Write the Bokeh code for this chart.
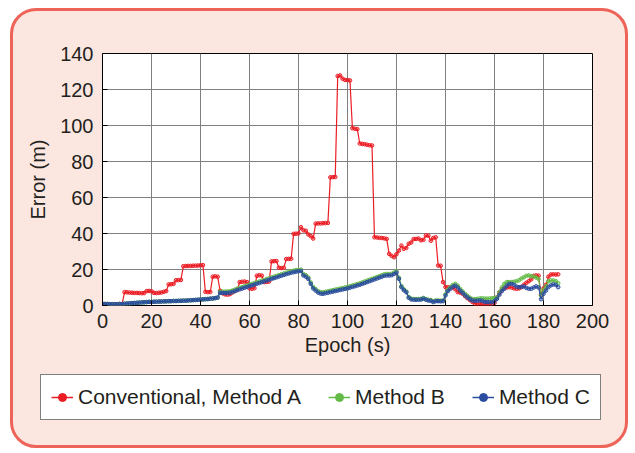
from bokeh.plotting import figure
from bokeh.models import ColumnDataSource, Legend, LegendItem
from bokeh.layouts import column
from bokeh.embed import file_html
from bokeh.resources import INLINE

# ---------------- data ----------------
epochs = list(range(0, 187))

method_a = [0.9, 0.8, 0.8, 0.7, 0.7, 0.7, 0.7, 0.8, 0.8,
            7.4, 7.3, 7.2, 7.1, 7.0, 7.0, 6.9, 6.8, 6.9,
            8.0, 8.1, 7.9,
            7.0, 6.9, 7.1, 7.2, 7.6, 8.0,
            11.7, 11.8, 12.0,
            14.0, 14.1, 14.2,
            21.8, 21.9, 22.0, 22.0, 22.1, 22.1, 22.2, 22.3, 22.4,
            7.6, 7.4, 7.5,
            16.0, 16.2, 16.0,
            8.2, 6.8, 6.2, 6.0, 6.3, 7.2, 8.0, 8.8,
            13.0, 13.2, 13.3, 13.0,
            9.5, 9.3, 9.6,
            16.5, 16.8, 16.6,
            13.0, 13.1, 13.3,
            24.5, 24.6, 24.7,
            21.0, 20.8, 21.0,
            25.8, 25.9, 26.0,
            39.8, 39.9, 40.0,
            43.5, 41.8, 41.5, 39.5, 38.5, 37.2,
            45.5, 45.6, 45.6, 45.7, 45.8, 45.9,
            71.2, 71.3, 71.4,
            127.5, 127.8, 126.0, 125.3, 125.2, 125.0,
            98.5, 98.2, 98.0,
            90.0, 89.8, 89.6, 89.3, 89.0, 88.9,
            37.9, 37.8, 37.6, 37.5, 37.3, 37.0,
            28.7, 27.6, 26.8, 28.5, 30.5, 33.3, 31.5, 32.0, 34.3, 35.0,
            36.9, 37.0, 37.2, 36.2, 36.5, 38.9, 38.8, 36.0, 37.5, 37.9,
            22.2, 22.1, 13.0, 10.2, 10.1, 10.0, 10.0, 9.0, 7.4, 7.2, 6.5, 5.2,
            4.0, 3.0, 2.0, 1.0, 0.9, 0.8, 0.8, 0.8, 0.9, 0.9, 1.0, 1.5,
            4.6, 7.0, 9.0, 9.5, 10.0, 10.2, 10.0, 9.5, 9.3, 9.5, 10.2, 11.5, 12.6,
            13.5, 14.5, 16.5, 16.7, 16.6, 6.0, 9.5, 11.5, 16.0, 17.2, 17.3, 17.2, 17.3]

method_c = [0.9, 0.8, 0.8, 0.7, 0.7, 0.7, 0.7, 0.8, 0.8,
            1.0, 1.1, 1.2, 1.3, 1.4, 1.5, 1.6, 1.7, 1.8, 1.9, 2.0, 2.0, 2.1,
            2.1, 2.2, 2.2, 2.3, 2.3, 2.4, 2.4, 2.5, 2.5, 2.6, 2.6, 2.7, 2.7,
            2.8, 2.9, 3.0, 3.1, 3.2, 3.3, 3.4, 3.5, 3.6, 3.8, 3.9, 4.1, 4.4,
            7.0, 7.0, 6.9, 7.0, 7.1, 7.5, 8.0, 8.5, 9.0, 9.4, 9.9, 10.3, 10.8,
            11.2, 11.6, 12.1, 12.5, 13.0, 13.4, 13.9, 14.3, 14.8, 15.2, 15.6,
            16.1, 16.5, 17.0, 17.4, 17.8, 18.2, 18.5, 18.8, 19.0, 19.2,
            16.7, 16.0, 14.8, 12.0, 9.5, 8.3, 7.2, 6.6, 6.5,
            6.8, 7.1, 7.4, 7.7, 8.0, 8.3, 8.6, 8.9, 9.2, 9.5, 9.9, 10.3, 10.7,
            11.1, 11.5, 12.0, 12.5, 13.0, 13.5, 14.0, 14.5, 15.0, 15.5, 16.0,
            16.5, 16.7, 16.7, 16.8, 17.5, 18.3,
            14.8, 10.2, 8.5, 7.4, 4.3, 3.4, 3.2, 3.2, 3.2, 3.3, 3.8, 3.2, 2.8,
            2.6, 1.9, 2.4, 2.4, 2.3, 2.4,
            5.6, 8.0, 9.3, 10.5, 11.0, 10.0, 8.3, 7.0, 5.6, 4.5, 3.5, 2.8, 2.6,
            2.7, 2.8, 2.6, 2.0, 1.9, 1.9, 1.8, 2.5,
            3.7, 6.0, 8.0, 9.3, 11.0, 12.0, 12.0, 11.5, 10.5, 10.2, 10.4, 10.6,
            9.8, 9.3, 9.3, 10.0, 10.6, 10.0, 3.5, 6.5, 8.3, 10.2, 11.2, 11.7,
            11.5, 10.2]

method_b = [0.9, 0.8, 0.8, 0.7, 0.7, 0.7, 0.7, 0.8, 0.8,
            1.0, 1.1, 1.2, 1.3, 1.4, 1.5, 1.6, 1.7, 1.8, 1.9, 2.0, 2.0, 2.1,
            2.1, 2.2, 2.2, 2.3, 2.3, 2.4, 2.4, 2.5, 2.5, 2.6, 2.6, 2.7, 2.7,
            2.8, 2.9, 3.0, 3.1, 3.2, 3.3, 3.4, 3.5, 3.6, 3.8, 3.9, 4.1, 4.4,
            7.6, 7.7, 7.7, 7.8, 7.9, 8.3, 8.8, 9.3, 9.8, 10.2, 10.7, 11.1, 11.6,
            12.0, 12.4, 12.9, 13.3, 13.8, 14.2, 14.7, 15.1, 15.6, 16.0, 16.4,
            16.9, 17.3, 17.8, 18.2, 18.6, 19.0, 19.3, 19.6, 19.8, 19.9,
            17.5, 16.8, 15.6, 12.8, 10.3, 9.1, 8.0, 7.4, 7.3,
            7.6, 7.9, 8.2, 8.5, 8.8, 9.1, 9.4, 9.7, 10.0, 10.3, 10.7, 11.1, 11.5,
            11.9, 12.3, 12.8, 13.3, 13.8, 14.3, 14.8, 15.3, 15.8, 16.3, 16.8,
            17.3, 17.5, 17.5, 17.6, 18.3, 19.0,
            15.4, 10.8, 9.0, 7.8, 4.7, 3.8, 3.6, 3.6, 3.6, 3.7, 4.2, 3.6, 3.2,
            3.0, 2.3, 2.8, 2.8, 2.7, 2.8,
            6.2, 8.8, 10.2, 11.4, 12.0, 11.0, 9.2, 7.8, 6.4, 5.3, 4.3, 3.6, 3.5,
            3.7, 3.9, 4.0, 3.8, 3.8, 3.9, 4.0, 4.2,
            4.5, 7.5, 10.0, 12.0, 13.0, 13.0, 13.0, 13.2, 13.5, 14.0, 15.0, 15.7,
            16.5, 16.7, 16.3, 16.1, 15.5, 14.8, 5.6, 8.5, 10.5, 13.5, 13.9, 13.9,
            13.5, 12.4]

series_names = ["Conventional, Method A", "Method B", "Method C"]
x_ticks = [0, 20, 40, 60, 80, 100, 120, 140, 160, 180, 200]
y_ticks = [0, 20, 40, 60, 80, 100, 120, 140]

FONT = "Liberation Sans"
TEXT = "#231f20"
keys = ["a", "b", "c"]
colors = {"a": "#ec1c24", "b": "#63bb47", "c": "#2b4da0"}

# ---------------- main plot ----------------
p = figure(width=612, height=355, x_range=(0, 200), y_range=(0, 140),
           output_backend="svg", toolbar_location=None,
           min_border_left=89, min_border_right=33,
           min_border_top=42, min_border_bottom=61,
           background_fill_color="white", border_fill_color=None)
p.frame_align = False
p.outline_line_color = "black"
p.outline_line_width = 1
p.xgrid.grid_line_color = "#808080"
p.ygrid.grid_line_color = "#808080"
p.xaxis.ticker = x_ticks
p.yaxis.ticker = y_ticks
for ax in (p.xaxis, p.yaxis):
    ax.axis_line_color = None
    ax.major_tick_in = 5
    ax.major_tick_out = 0
    ax.major_tick_line_color = "black"
    ax.minor_tick_line_color = None
    ax.major_label_text_font = FONT
    ax.major_label_text_font_size = "20px"
    ax.major_label_text_color = TEXT
    ax.axis_label_text_font = FONT
    ax.axis_label_text_font_size = "20px"
    ax.axis_label_text_font_style = "normal"
    ax.axis_label_text_color = TEXT
p.xaxis.axis_label = "Epoch (s)"
p.yaxis.axis_label = "Error (m)"
p.xaxis.major_label_standoff = 8
p.yaxis.major_label_standoff = 9
p.xaxis.axis_label_standoff = 3
p.yaxis.axis_label_standoff = 8

src = ColumnDataSource(data=dict(x=epochs, a=method_a, b=method_b, c=method_c))
for key in keys:
    p.line("x", key, source=src, line_color=colors[key], line_width=1.2)
    p.scatter("x", key, source=src, size=3.6, marker="circle",
              line_color=colors[key], fill_color=colors[key],
              fill_alpha=0.35, line_width=1)

# ---------------- legend panel ----------------
pl = figure(width=612, height=79, x_range=(0, 1), y_range=(0, 1),
            output_backend="svg", toolbar_location=None,
            x_axis_type=None, y_axis_type=None,
            min_border=0, background_fill_color=None, border_fill_color=None)
pl.frame_align = False
pl.outline_line_color = None
pl.xgrid.visible = False
pl.ygrid.visible = False
# off-range placeholder points so the legend glyphs have something to draw
hidden = ColumnDataSource(data=dict(x=[-10, -9], y=[-10, -9]))
items = []
for key, name in zip(keys, series_names):
    ln = pl.line("x", "y", source=hidden, line_color=colors[key], line_width=1.5)
    sc = pl.scatter("x", "y", source=hidden, size=3, marker="circle",
                    line_color=colors[key], fill_color=colors[key])
    items.append(LegendItem(label=name, renderers=[ln, sc]))

legend = Legend(items=items, orientation="horizontal", location=(27, 25))
legend.label_text_font = FONT
legend.label_text_font_size = "21px"
legend.label_text_color = TEXT
legend.border_line_color = "black"
legend.border_line_width = 1
legend.background_fill_color = "white"
legend.background_fill_alpha = 1
legend.padding = 10
legend.spacing = 27
legend.glyph_width = 22
legend.glyph_height = 20
legend.label_standoff = 5
legend.label_height = 24
legend.margin = 0
pl.add_layout(legend)

layout = column(p, pl, spacing=0)
layout.margin = (8, 0, 0, 10)
layout.styles = {"border": "3px solid #ee6459", "border-radius": "26px",
                 "background-color": "#fce7e0"}

open("out.html", "w").write(file_html(layout, INLINE))
